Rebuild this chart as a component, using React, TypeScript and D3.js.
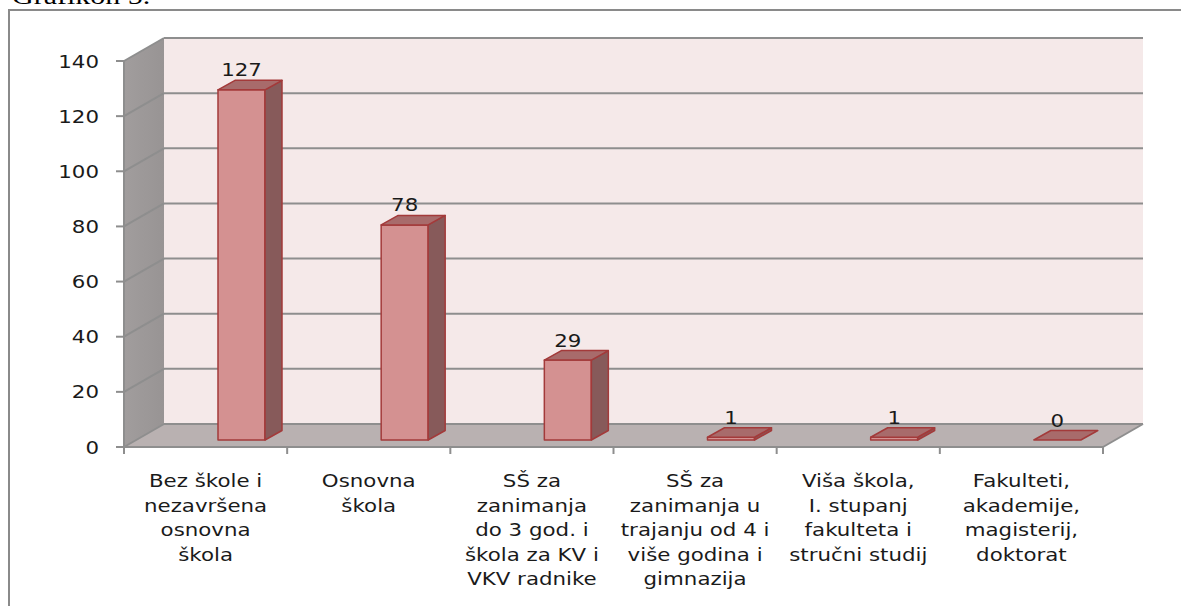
import React from "react";
import * as d3 from "d3";

// kategorije (redovi naljepnica) i vrijednosti
const categories = [
  ["Bez škole i", "nezavršena", "osnovna", "škola"],
  ["Osnovna", "škola"],
  ["SŠ za", "zanimanja", "do 3 god. i", "škola za KV i", "VKV radnike"],
  ["SŠ za", "zanimanja u", "trajanju od 4 i", "više godina i", "gimnazija"],
  ["Viša škola,", "I. stupanj", "fakulteta i", "stručni studij"],
  ["Fakulteti,", "akademije,", "magisterij,", "doktorat"],
];
const values = [127, 78, 29, 1, 1, 0];
const yTicks = [0, 20, 40, 60, 80, 100, 120, 140];

const W = 1181;
const H = 606;
const FONT = "DejaVu Sans";
const SX = 1.22; // horizontal stretch of the original text

export default function App() {
  const x0 = 124;
  const x1 = 1103;
  const yScale = d3.scaleLinear().domain([0, 140]).range([447, 61]);
  const xScale = d3
    .scaleBand()
    .domain(categories.map((_, i) => String(i)))
    .range([x0, x1]);

  // wall depth
  const dx = 40;
  const dy = -23;
  // bar depth
  const bdx = 17;
  const bdy = -9.5;
  const barW = 47;
  const barOffset = 94;
  const barY = (v: number) => yScale(v) - 7;

  const y0 = yScale(0);
  const yTop = yScale(140);

  const stretch = (x: number, y: number) => `translate(${x},${y}) scale(${SX},1)`;

  return (
    <div style={{ position: "absolute", left: 0, top: 0 }}>
      <svg width={W} height={H} style={{ display: "block" }}>
        <defs>
          <linearGradient id="wallGrad" x1="0" y1="0" x2="1" y2="0">
            <stop offset="0" stopColor="#a19d9d" />
            <stop offset="1" stopColor="#989494" />
          </linearGradient>
        </defs>
        <rect width={W} height={H} fill="#ffffff" />
        <text
          transform="translate(12,4) scale(1.25,1)"
          fontFamily="Liberation Serif"
          fontSize={24}
          fill="#000"
        >
          Grafikon 5.
        </text>
        <rect x={9} y={10} width={1300} height={800} fill="none" stroke="#8a8a8a" strokeWidth={2} />

        {/* back wall */}
        <rect
          x={x0 + dx}
          y={yTop + dy}
          width={x1 - x0}
          height={y0 - yTop}
          fill="#f5e9e9"
        />
        {/* left wall */}
        <polygon
          points={`${x0},${y0} ${x0},${yTop} ${x0 + dx},${yTop + dy} ${x0 + dx},${y0 + dy}`}
          fill="url(#wallGrad)"
        />
        {/* floor */}
        <polygon
          points={`${x0},${y0} ${x1},${y0} ${x1 + dx},${y0 + dy} ${x0 + dx},${y0 + dy}`}
          fill="#b9b1b1"
        />

        {/* gridlines */}
        {yTicks.map((t) => (
          <g key={t} stroke="#8e8e8e" strokeWidth={2} fill="none">
            <line x1={x0} y1={yScale(t)} x2={x0 + dx} y2={yScale(t) + dy} />
            <line x1={x0 + dx} y1={yScale(t) + dy} x2={x1 + dx} y2={yScale(t) + dy} />
          </g>
        ))}
        <line x1={x1} y1={y0} x2={x1 + dx} y2={y0 + dy} stroke="#8e8e8e" strokeWidth={2} />

        {/* axes */}
        <line x1={x0} y1={yTop} x2={x0} y2={y0} stroke="#8e8e8e" strokeWidth={2} />
        <line x1={x0} y1={y0} x2={x1} y2={y0} stroke="#8e8e8e" strokeWidth={2} />
        {yTicks.map((t) => (
          <g key={"yt" + t}>
            <line x1={x0 - 8} y1={yScale(t)} x2={x0} y2={yScale(t)} stroke="#8e8e8e" strokeWidth={2} />
            <text
              transform={stretch(99, yScale(t) + 6.5)}
              textAnchor="end"
              fontFamily={FONT}
              fontSize={17.5}
              fill="#1a1a1a"
            >
              {t}
            </text>
          </g>
        ))}
        {[...xScale.domain(), "end"].map((d, i) => {
          const x = d === "end" ? x1 : (xScale(d) as number);
          return (
            <line key={"xt" + i} x1={x} y1={y0} x2={x} y2={y0 + 7} stroke="#8e8e8e" strokeWidth={2} />
          );
        })}

        {/* bars */}
        {values.map((v, i) => {
          const bx = (xScale(String(i)) as number) + barOffset;
          const top = barY(v);
          const bottom = barY(0);
          const stroke = "#a33a3a";
          return (
            <g key={"bar" + i} strokeWidth={1.5} stroke={stroke} strokeLinejoin="round">
              {v > 0 && (
                <>
                  <rect x={bx} y={top} width={barW} height={bottom - top} fill="#d49191" />
                  <polygon
                    points={`${bx + barW},${top} ${bx + barW + bdx},${top + bdy} ${bx + barW + bdx},${bottom + bdy} ${bx + barW},${bottom}`}
                    fill="#875a5a"
                  />
                </>
              )}
              <polygon
                points={`${bx},${top} ${bx + barW},${top} ${bx + barW + bdx},${top + bdy} ${bx + bdx},${top + bdy}`}
                fill="#a86b6b"
              />
              <text
                transform={stretch(bx + 23.5, top + bdy - 4)}
                textAnchor="middle"
                fontFamily={FONT}
                fontSize={17.5}
                fill="#1a1a1a"
                stroke="none"
              >
                {v}
              </text>
            </g>
          );
        })}

        {/* category labels */}
        {categories.map((lines, i) => {
          const cx = (xScale(String(i)) as number) + xScale.bandwidth() / 2;
          return (
            <g key={"cat" + i}>
              {lines.map((line, j) => (
                <text
                  key={j}
                  transform={stretch(cx, 487 + j * 24.5)}
                  textAnchor="middle"
                  fontFamily={FONT}
                  fontSize={17.5}
                  fill="#1a1a1a"
                >
                  {line}
                </text>
              ))}
            </g>
          );
        })}
      </svg>
    </div>
  );
}
